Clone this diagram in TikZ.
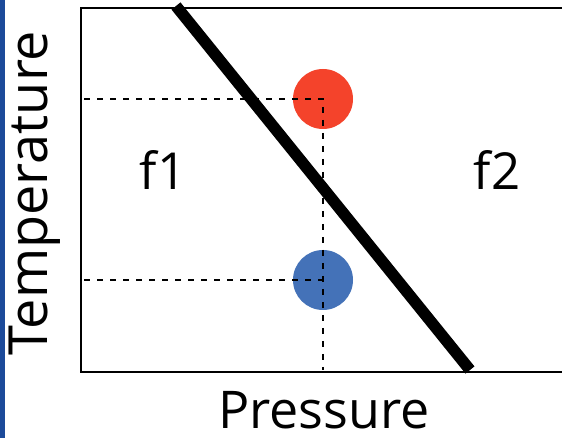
\documentclass[tikz,border=0pt]{standalone}
\usepackage{fontspec}
\setmainfont{Open Sans}
\definecolor{hotred}{HTML}{F4432B}
\definecolor{coldblue}{HTML}{4472B8}
\definecolor{stripblue}{HTML}{1C4A9A}
\tikzset{
  axisline/.style={line width=2.6pt, black},
  guide/.style={line width=2.8pt, dash pattern=on 6pt off 7pt, black},
  phaseline/.style={line width=11.5pt, black},
  dot/.style={circle, minimum size=60pt, inner sep=0pt},
  lbl/.style={inner sep=0pt, font=\fontsize{52}{54}\selectfont},
  tlbl/.style={inner sep=0pt, font=\fontsize{54}{56}\selectfont},
  region/.style={inner sep=0pt, font=\fontsize{51}{53}\selectfont}
}
\begin{document}
\begin{tikzpicture}[x=1pt,y=1pt]
\useasboundingbox (0,0) rectangle (562,438);
\fill[white] (0,0) rectangle (562,438);
\fill[stripblue] (0,0) rectangle (5,438);
% box
\coordinate (tr) at (562,430);
\coordinate (tl) at (81,430);
\coordinate (bl) at (81,66);
\coordinate (br) at (562,66);
\draw[axisline] (tr) -- (tl) -- (bl) -- (br);
% points
\node[dot, fill=hotred] (hot) at (323,339) {};
\node[dot, fill=coldblue] (cold) at (323,158) {};
\coordinate (hy) at (84,339);
\coordinate (cy) at (84,158);
\coordinate (hx) at (323,68);
\draw[guide] (hy) -- (hot.center) -- (hx);
\draw[guide] (cy) -- (cold.center);
% phase boundary
\coordinate (ptop) at (176,432);
\coordinate (pbot) at (470,68);
\draw[phaseline] (ptop) -- (pbot);
% labels
\node[tlbl, rotate=90] (tlab) at (35,245) {Temperature};
\node[lbl] (plab) at (324,28) {Pressure};
\node[region, anchor=base] (f1) at (163,248) {f1};
\node[region, anchor=base] (f2) at (497,248) {f2};
\end{tikzpicture}
\end{document}
